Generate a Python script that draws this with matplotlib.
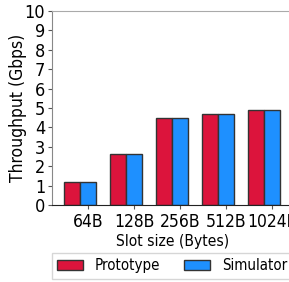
import matplotlib
matplotlib.use("Agg")
import matplotlib.pyplot as plt
import numpy as np

plt.rcParams['font.family'] = ['DejaVu Sans']
plt.rcParams['font.stretch'] = 'condensed'

categories = ["64B", "128B", "256B", "512B", "1024B"]
prototype = [1.2, 2.65, 4.48, 4.7, 4.9]
simulator = [1.2, 2.65, 4.48, 4.7, 4.9]

fig = plt.figure(figsize=(2.89, 2.82), dpi=100)
ax = fig.add_axes([52/289, 1-205/282, 241/289, 194/282])
x = np.arange(len(categories))
w = 0.35
ax.bar(x, prototype, w, color='crimson', edgecolor='#333333', linewidth=1, label='Prototype')
ax.bar(x + w, simulator, w, color='dodgerblue', edgecolor='#333333', linewidth=1, label='Simulator')
ax.set_xticks(x + w)
ax.set_xticklabels(categories)
ax.set_xlim(-0.435, 4.8)
ax.set_ylim(0, 10)
ax.set_yticks(range(0, 11))
ax.tick_params(axis='y', labelsize=13, length=3, color='#555555', pad=2)
ax.tick_params(axis='x', labelsize=12.5, length=3, color='#555555', pad=3)
ax.set_xlabel('Slot size (Bytes)', fontsize=11.2, labelpad=2)
ax.set_ylabel('Throughput (Gbps)', fontsize=12.5, labelpad=-2)
ax.spines['top'].set_color('#aaaaaa')
ax.spines['right'].set_visible(False)
ax.spines['left'].set_color('#888888')
ax.spines['bottom'].set_color('#222222')
fig.legend(*ax.get_legend_handles_labels(), loc='upper left',
           bbox_to_anchor=(52/289, 1-253/282), bbox_transform=fig.transFigure,
           ncol=2, fontsize=10.8, frameon=True, fancybox=False, edgecolor='#cccccc',
           handlelength=1.7, handletextpad=0.8, columnspacing=1.6, borderaxespad=0,
           borderpad=0.35)
fig.savefig('out.png', dpi=100)
